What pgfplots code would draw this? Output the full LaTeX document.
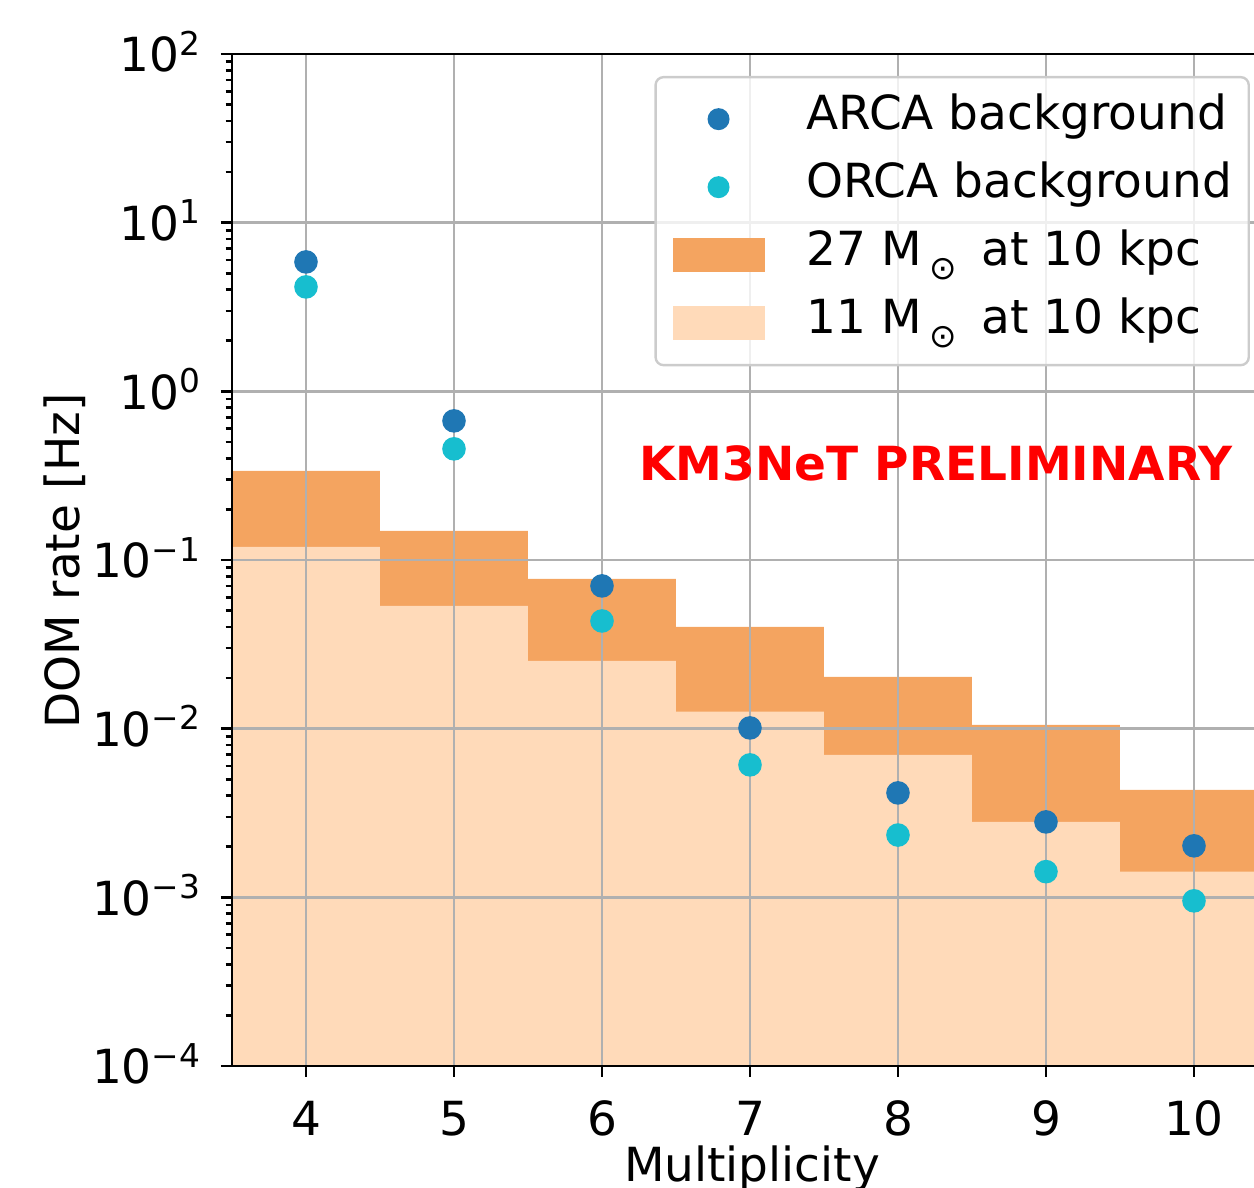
\documentclass[border=0pt]{standalone}
\usepackage{pgfplots}
\pgfplotsset{compat=1.18}
\usepackage{fontspec}
\setmainfont{DejaVu Sans}
\definecolor{arca}{HTML}{1F77B4}
\definecolor{orca}{HTML}{17BECF}
\definecolor{mA}{HTML}{F4A460}
\definecolor{mB}{HTML}{FFDAB9}
\definecolor{gridc}{HTML}{B0B0B0}
\newcommand{\fnt}{\fontsize{11.75}{14}\selectfont}
\newcommand{\tl}[1]{10\raisebox{0.36em}{\fontsize{8.2}{10}\selectfont#1}}
\newcommand{\msun}{M\hspace{2pt}\raisebox{-0.3em}{\fontsize{8.2}{10}\selectfont ⊙}\hspace{6pt}}
\begin{document}
\begin{tikzpicture}
\begin{axis}[
  at={(0,0)}, anchor=south west,
  width=259pt, height=253pt, scale only axis,
  xmin=3.5, xmax=10.5, ymin=1e-4, ymax=1e2,
  ymode=log, set layers,
  xtick={4,5,6,7,8,9,10},
  ytick={1e-4,1e-3,1e-2,1e-1,1,1e1,1e2},
  yticklabels={\tl{−4},\tl{−3},\tl{−2},\tl{−1},\tl{0},\tl{1},\tl{2}},
  minor ytick={2e-4,3e-4,4e-4,5e-4,6e-4,7e-4,8e-4,9e-4,
               2e-3,3e-3,4e-3,5e-3,6e-3,7e-3,8e-3,9e-3,
               2e-2,3e-2,4e-2,5e-2,6e-2,7e-2,8e-2,9e-2,
               2e-1,3e-1,4e-1,5e-1,6e-1,7e-1,8e-1,9e-1,
               2,3,4,5,6,7,8,9,20,30,40,50,60,70,80,90},
  tick pos=left, tick align=outside,
  major tick length=2.75pt, minor tick length=1.6pt,
  tick style={black, line width=0.65pt},
  axis line style={line width=0.65pt},
  xmajorgrids, ymajorgrids,
  major grid style={gridc, line width=0.65pt},
  /pgf/number format/assume math mode=true,
  tick label style={font=\fnt},
  xticklabel style={anchor=base, yshift=-14.75pt},
  yticklabel style={anchor=base east, inner sep=0pt, yshift=-4.5pt, xshift=-5pt},
  xlabel={Multiplicity},
  xlabel style={font=\fnt, at={(axis description cs:0.502,-0.1146)}, anchor=base},
  ylabel={DOM rate [Hz]},
  ylabel style={font=\fnt, at={(axis description cs:-0.1612,0.499)}, anchor=center},
  legend cell align=left,
  legend style={font=\fnt, at={(0.9826,0.9783)}, anchor=north east,
    draw=black!20, fill=white, fill opacity=0.8, text opacity=1,
    rounded corners=2pt, line width=0.6pt,
    inner xsep=4.25pt, inner ysep=5.5pt, row sep=7pt, column sep=10.5pt,
    nodes={inner sep=0pt, text height=0.76em, text depth=0.24em}},
]
\addlegendimage{legend image code/.code={\path[draw=none,fill=none] (0pt,-4.25pt) rectangle (23pt,4.25pt); \path[fill=arca, draw=none, fill opacity=1] (11.5pt,0pt) circle (2.75pt);}}
\addlegendentry{ARCA background}
\addlegendimage{legend image code/.code={\path[draw=none,fill=none] (0pt,-4.25pt) rectangle (23pt,4.25pt); \path[fill=orca, draw=none, fill opacity=1] (11.5pt,0pt) circle (2.75pt);}}
\addlegendentry{ORCA background}
\addlegendimage{legend image code/.code={\path[fill=mA, draw=none, fill opacity=1, sharp corners] (0pt,-4.25pt) rectangle (23pt,4.25pt);}}
\addlegendentry{27 \msun at 10 kpc}
\addlegendimage{legend image code/.code={\path[fill=mB, draw=none, fill opacity=1, sharp corners] (0pt,-4.25pt) rectangle (23pt,4.25pt);}}
\addlegendentry{11 \msun at 10 kpc}

% 27 Msun at 10 kpc
\addplot[forget plot, const plot, fill=mA, draw=none, on layer=axis background] coordinates {
  (3.5,1e-4) (3.5,0.337) (4.5,0.149) (5.5,0.0773) (6.5,0.0401) (7.5,0.0203) (8.5,0.01054) (9.5,0.00434) (10.5,0.00434) (10.5,1e-4)};
% 11 Msun at 10 kpc
\addplot[forget plot, const plot, fill=mB, draw=none, on layer=axis background] coordinates {
  (3.5,1e-4) (3.5,0.1197) (4.5,0.0535) (5.5,0.0252) (6.5,0.0126) (7.5,0.0070) (8.5,0.0028) (9.5,0.00142) (10.5,0.00142) (10.5,1e-4)};
% ARCA background
\addplot[forget plot, only marks, mark=*, mark size=2.75pt, color=arca, mark options={draw=none, fill=arca}] coordinates {
  (4,5.85) (5,0.668) (6,0.0702) (7,0.0101) (8,0.00416) (9,0.0028) (10,0.00202)};
% ORCA background
\addplot[forget plot, only marks, mark=*, mark size=2.75pt, color=orca, mark options={draw=none, fill=orca}] coordinates {
  (4,4.16) (5,0.456) (6,0.0435) (7,0.0061) (8,0.00234) (9,0.00142) (10,0.000953)};

\node[text=red, font=\bfseries\fnt, anchor=base] at (axis cs:8.257,0.294) {KM3NeT PRELIMINARY};
\end{axis}
\pgfresetboundingbox
\path[use as bounding box] (-58pt,-30.5pt) rectangle (255.5pt,266.5pt);
\end{tikzpicture}
\end{document}
